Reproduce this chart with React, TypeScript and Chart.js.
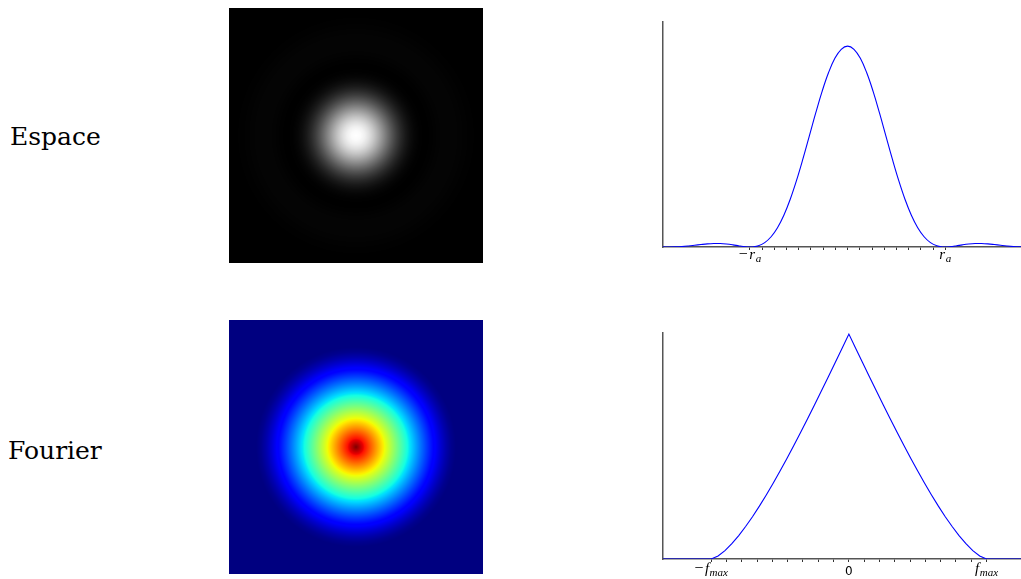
import { useEffect, useRef } from 'react';
import { Chart, registerables } from 'chart.js';

Chart.register(...registerables);

// ---- Data ----
// Airy point-spread function: radial position (optical units) and normalised intensity
const psfRadius = [0, 0.25, 0.5, 0.75, 1, 1.25, 1.5, 1.75, 2, 2.25, 2.5, 2.75, 3, 3.25, 3.5, 3.75, 3.83, 4, 4.25, 4.5, 4.75, 5, 5.25, 5.5, 5.75, 6, 6.25, 6.5, 6.75, 7.02, 7.25];
const psfIntensity = [1, 0.9841, 0.9393, 0.8671, 0.7746, 0.6675, 0.5534, 0.4397, 0.3326, 0.2376, 0.1582, 0.096, 0.0511, 0.022, 0.0062, 0.0003, 0, 0.0011, 0.0053, 0.0106, 0.0148, 0.0172, 0.0172, 0.0154, 0.0122, 0.0085, 0.005, 0.0022, 0.0006, 0, 0.0004];

// Modulation transfer function: frequency (in units of f_max) and contrast
const mtfFrequency = [0, 0.05, 0.1, 0.15, 0.2, 0.25, 0.3, 0.35, 0.4, 0.45, 0.5, 0.55, 0.6, 0.65, 0.7, 0.75, 0.8, 0.85, 0.9, 0.95, 1, 1.1, 1.2, 1.35];
const mtfContrast = [1, 0.9364, 0.8729, 0.8097, 0.7471, 0.6851, 0.6238, 0.5637, 0.5046, 0.447, 0.391, 0.3368, 0.2848, 0.2351, 0.1881, 0.1443, 0.1041, 0.0682, 0.0374, 0.0133, 0, 0, 0, 0];

// Axis ranges / ticks
const psfImageHalfWidth = 7.05;
const mtfImageHalfWidth = 1.27;
const psfPlotX = [-7.24, 6.8];
const psfPlotYMax = 1.12;
const mtfPlotX = [-1.35, 1.25];
const mtfPlotYMax = 1.005;
const psfMajorTick = 3.83; // r_a
const psfMinorPerSide = 8;
const mtfMajorTick = 1; // f_max
const mtfMinorPerSide = 9;

const psfTickValues = [-3.83, 3.83];
const psfTickMinus = [true, false];
const psfTickMain = ['r', 'r'];
const psfTickSub = ['a', 'a'];

const mtfTickValues = [-1, 0, 1];
const mtfTickMinus = [true, false, false];
const mtfTickMain = ['f', '0', 'f'];
const mtfTickSub = ['max', '', 'max'];

const rowLabels = ['Espace', 'Fourier'];

// ---- helpers ----
function interp(xs: number[], ys: number[], x: number) {
  if (x <= xs[0]) return ys[0];
  for (let i = 1; i < xs.length; i++) {
    if (x <= xs[i]) {
      const t = (x - xs[i - 1]) / (xs[i] - xs[i - 1]);
      return ys[i - 1] + t * (ys[i] - ys[i - 1]);
    }
  }
  return ys[ys.length - 1];
}

function grayMap(v: number): [number, number, number] {
  const g = Math.round(Math.max(0, Math.min(1, v)) * 255);
  return [g, g, g];
}

function seg(v: number, pts: number[][]) {
  if (v <= pts[0][0]) return pts[0][1];
  for (let i = 1; i < pts.length; i++) {
    if (v <= pts[i][0]) {
      const t = (v - pts[i - 1][0]) / (pts[i][0] - pts[i - 1][0]);
      return pts[i - 1][1] + t * (pts[i][1] - pts[i - 1][1]);
    }
  }
  return pts[pts.length - 1][1];
}

function jetMap(v: number): [number, number, number] {
  const x = Math.max(0, Math.min(1, v));
  const r = seg(x, [[0, 0], [0.35, 0], [0.66, 1], [0.89, 1], [1, 0.5]]);
  const g = seg(x, [[0, 0], [0.125, 0], [0.375, 1], [0.64, 1], [0.91, 0], [1, 0]]);
  const b = seg(x, [[0, 0.5], [0.11, 1], [0.34, 1], [0.65, 0], [1, 0]]);
  return [Math.round(r * 255), Math.round(g * 255), Math.round(b * 255)];
}

function radialImagePlugin(radii: number[], values: number[], cmap: (v: number) => [number, number, number]) {
  return {
    id: 'radialImage',
    beforeDatasetsDraw(chart: any) {
      const { ctx, chartArea: a, scales } = chart;
      const xs = scales.x;
      const ys = scales.y;
      const w = Math.round(a.right - a.left);
      const h = Math.round(a.bottom - a.top);
      const img = ctx.createImageData(w, h);
      const vmax = Math.max(...values);
      for (let j = 0; j < h; j++) {
        const yv = ys.getValueForPixel(a.top + j + 0.5);
        for (let i = 0; i < w; i++) {
          const xv = xs.getValueForPixel(a.left + i + 0.5);
          const v = interp(radii, values, Math.hypot(xv, yv)) / vmax;
          const c = cmap(v);
          const k = (j * w + i) * 4;
          img.data[k] = c[0];
          img.data[k + 1] = c[1];
          img.data[k + 2] = c[2];
          img.data[k + 3] = 255;
        }
      }
      ctx.putImageData(img, Math.round(a.left), Math.round(a.top));
    },
  };
}

function mathTickPlugin(
  values: number[], minus: boolean[], main: string[], sub: string[],
  mainOffset: number, subOffset: number, sansOffset: number
) {
  return {
    id: 'mathTicks',
    afterDraw(chart: any) {
      const { ctx } = chart;
      const x = chart.scales.x;
      const axisY = x.top;
      ctx.save();
      ctx.fillStyle = '#000';
      ctx.textBaseline = 'alphabetic';
      ctx.textAlign = 'left';
      values.forEach((val, i) => {
        const px = x.getPixelForValue(val);
        const isNumber = /^[0-9]/.test(main[i]);
        if (isNumber) {
          ctx.font = '12px "DejaVu Sans"';
          const w = ctx.measureText(main[i]).width;
          ctx.fillText(main[i], px - w / 2, axisY + sansOffset);
          return;
        }
        const minusFont = '16px "Liberation Serif"';
        const mainFont = 'italic 15px "Liberation Serif"';
        const subFont = 'italic 11px "Liberation Serif"';
        ctx.font = minusFont;
        const wMinus = minus[i] ? ctx.measureText('\u2212').width + 1.5 : 0;
        ctx.font = mainFont;
        const wMain = ctx.measureText(main[i]).width + 0.5;
        ctx.font = subFont;
        const wSub = ctx.measureText(sub[i]).width;
        let cx = px - (wMinus + wMain + wSub) / 2;
        if (minus[i]) {
          ctx.font = minusFont;
          ctx.fillText('\u2212', cx, axisY + mainOffset);
          cx += wMinus;
        }
        ctx.font = mainFont;
        ctx.fillText(main[i], cx, axisY + mainOffset);
        cx += wMain;
        ctx.font = subFont;
        ctx.fillText(sub[i], cx, axisY + subOffset);
      });
      ctx.restore();
    },
  };
}

function mirrored(radii: number[], vals: number[]) {
  const pts: { x: number; y: number }[] = [];
  for (let i = radii.length - 1; i > 0; i--) pts.push({ x: -radii[i], y: vals[i] });
  for (let i = 0; i < radii.length; i++) pts.push({ x: radii[i], y: vals[i] });
  return pts;
}

function tickPositions(major: number, perSide: number) {
  const out: number[] = [];
  for (let k = -perSide; k <= perSide; k++) out.push((major * k) / perSide);
  return out;
}

function imageConfig(radii: number[], values: number[], half: number, aspect: number, cmap: any) {
  return {
    type: 'scatter',
    data: { datasets: [] },
    options: {
      animation: false,
      responsive: false,
      devicePixelRatio: 1,
      layout: { padding: 0 },
      plugins: { legend: { display: false }, tooltip: { enabled: false } },
      scales: {
        x: { type: 'linear', display: false, min: -half, max: half },
        y: { type: 'linear', display: false, min: -half * aspect, max: half * aspect },
      },
    },
    plugins: [radialImagePlugin(radii, values, cmap)],
  };
}

function profileConfig(opts: {
  points: { x: number; y: number }[]; xRange: number[]; yMax: number; ticks: number[];
  tension: number; padding: any; labels: any;
}) {
  return {
    type: 'line',
    data: {
      datasets: [{
        data: opts.points,
        borderColor: '#0000ff',
        borderWidth: 1.1,
        pointRadius: 0,
        tension: opts.tension,
        fill: false,
      }],
    },
    options: {
      animation: false,
      responsive: false,
      devicePixelRatio: 1,
      layout: { padding: opts.padding },
      plugins: { legend: { display: false }, tooltip: { enabled: false } },
      scales: {
        x: {
          type: 'linear',
          min: opts.xRange[0],
          max: opts.xRange[1],
          afterBuildTicks: (s: any) => { s.ticks = opts.ticks.map((v) => ({ value: v })); },
          ticks: { display: false, autoSkip: false },
          grid: { display: true, drawOnChartArea: false, drawTicks: true, tickLength: 3, tickColor: '#333', tickWidth: 1 },
          border: { display: true, color: '#555', width: 1.5 },
        },
        y: {
          type: 'linear',
          min: 0,
          max: opts.yMax,
          ticks: { display: false },
          grid: { display: false, drawTicks: false },
          border: { display: true, color: '#555', width: 1.5 },
        },
      },
    },
    plugins: [opts.labels],
  };
}

function ChartCanvas({ left, top, width, height, build }: { left: number; top: number; width: number; height: number; build: () => any }) {
  const ref = useRef<HTMLCanvasElement>(null);
  useEffect(() => {
    const chart = new Chart(ref.current as HTMLCanvasElement, build());
    return () => chart.destroy();
  }, []);
  return (
    <canvas
      ref={ref}
      width={width}
      height={height}
      style={{ position: 'absolute', left, top, width, height, display: 'block' }}
    />
  );
}

export default function App() {
  const labelStyle = (left: number, top: number) => ({
    position: 'absolute' as const,
    left,
    top,
    font: '25px "DejaVu Serif"',
    lineHeight: '25px',
    color: '#000',
    whiteSpace: 'nowrap' as const,
  });
  return (
    <div style={{ position: 'absolute', left: 0, top: 0, width: 1021, height: 579, overflow: 'hidden', background: '#fff' }}>
      <div style={labelStyle(10, 124)}>{rowLabels[0]}</div>
      <div style={labelStyle(8, 438)}>{rowLabels[1]}</div>

      <ChartCanvas left={229} top={8} width={254} height={255}
        build={() => imageConfig(psfRadius, psfIntensity, psfImageHalfWidth, 255 / 254, grayMap)} />
      <ChartCanvas left={229} top={320} width={254} height={254}
        build={() => imageConfig(mtfFrequency, mtfContrast, mtfImageHalfWidth, 1, jetMap)} />

      <ChartCanvas left={650} top={10} width={371} height={270}
        build={() => profileConfig({
          points: mirrored(psfRadius, psfIntensity),
          xRange: psfPlotX,
          yMax: psfPlotYMax,
          ticks: tickPositions(psfMajorTick, psfMinorPerSide),
          tension: 0.4,
          padding: { left: 13, top: 12, right: 0, bottom: 30 },
          labels: mathTickPlugin(psfTickValues, psfTickMinus, psfTickMain, psfTickSub, 12, 15, 14),
        })} />
      <ChartCanvas left={650} top={320} width={371} height={259}
        build={() => profileConfig({
          points: mirrored(mtfFrequency, mtfContrast),
          xRange: mtfPlotX,
          yMax: mtfPlotYMax,
          ticks: tickPositions(mtfMajorTick, mtfMinorPerSide),
          tension: 0,
          padding: { left: 13, top: 13, right: 0, bottom: 17 },
          labels: mathTickPlugin(mtfTickValues, mtfTickMinus, mtfTickMain, mtfTickSub, 14, 17, 16),
        })} />
    </div>
  );
}
